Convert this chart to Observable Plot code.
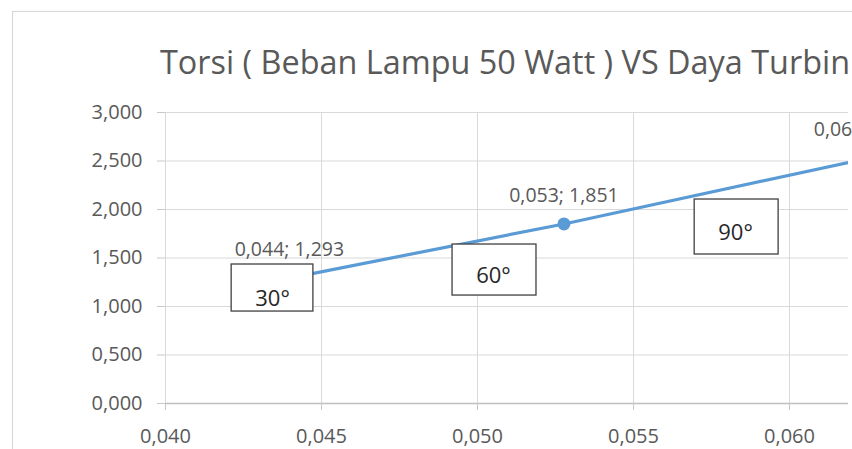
<!DOCTYPE html>
<html>
<head>
<meta charset="utf-8">
<script src="https://cdn.jsdelivr.net/npm/d3@7"></script>
<script src="https://cdn.jsdelivr.net/npm/@observablehq/plot@0.6"></script>
<style>
  html, body { margin: 0; padding: 0; background: white; overflow: hidden; }
  #chart svg { display: block; overflow: hidden; }
</style>
</head>
<body>
<div id="chart"></div>
<script>
// ---- data ----
const title = "Torsi ( Beban Lampu 50 Watt ) VS Daya Turbin";
const dayaTurbin = [0.04397, 0.05277, 0.06253];   // x values
const torsi = [1.293, 1.851, 2.530];              // y values
const xTicks = [0.040, 0.045, 0.050, 0.055, 0.060];
const yTicks = [0, 0.5, 1.0, 1.5, 2.0, 2.5, 3.0];
const angleLabels = ["30°", "60°", "90°"];

// annotation boxes (data coordinates)
const boxX1 = [0.04212, 0.04920, 0.05696];
const boxX2 = [0.04474, 0.05189, 0.05965];
const boxY1 = [0.948, 1.113, 1.536];
const boxY2 = [1.433, 1.639, 2.103];
const boxTextX = [0.04343, 0.05051, 0.05827];
const boxTextY = [1.077, 1.314, 1.758];

const points = dayaTurbin.map((x, i) => ({x, y: torsi[i]}));
const boxes = angleLabels.map((label, i) => ({
  label, x1: boxX1[i], x2: boxX2[i], y1: boxY1[i], y2: boxY2[i], xc: boxTextX[i], yc: boxTextY[i]
}));

const fmt = v => d3.format(".3f")(v).replace(".", ",");
const textGray = "#595959";

const chart = Plot.plot({
  width: 852,
  height: 449,
  marginLeft: 165,
  marginRight: 4,
  marginTop: 112,
  marginBottom: 46,
  style: {fontFamily: "'Open Sans', sans-serif", background: "white"},
  x: {domain: [0.040, 0.06189]},
  y: {domain: [0, 3]},
  marks: [
    Plot.gridX(xTicks, {stroke: "#d9d9d9", strokeOpacity: 1, strokeWidth: 1}),
    Plot.gridY(yTicks, {stroke: "#d9d9d9", strokeOpacity: 1, strokeWidth: 1}),
    Plot.ruleY([0], {stroke: "#bfbfbf", strokeWidth: 1.5}),
    Plot.axisX(xTicks, {tickSize: 7, tickPadding: 18, tickFormat: fmt, fontSize: 20,
      fill: textGray, stroke: "#c8c8c8", label: null}),
    Plot.axisY(yTicks, {tickSize: 8, tickPadding: 15, tickFormat: fmt, fontSize: 20,
      fill: textGray, stroke: "#c8c8c8", label: null}),
    Plot.line(points, {x: "x", y: "y", stroke: "#5b9bd5", strokeWidth: 3.2, clip: true}),
    Plot.dot(points, {x: "x", y: "y", r: 6.5, fill: "#5b9bd5", clip: true}),
    Plot.text(points, {x: "x", y: "y", text: d => `${fmt(d.x)}; ${fmt(d.y)}`, dy: -28,
      fontSize: 19.5, fill: textGray}),
    Plot.rect(boxes, {x1: "x1", x2: "x2", y1: "y1", y2: "y2", fill: "white",
      stroke: "#404040", strokeWidth: 1.3}),
    Plot.text(boxes, {x: "xc", y: "yc", text: "label", fontSize: 22, fill: "#262626"})
  ]
});

const svg = d3.select(chart);
svg.insert("rect", ":first-child")
  .attr("x", 12.5).attr("y", 11.5).attr("width", 1000).attr("height", 600)
  .attr("fill", "white").attr("stroke", "#d9d9d9").attr("stroke-width", 1.2);
svg.append("text")
  .attr("x", 160).attr("y", 74)
  .attr("text-anchor", "start")
  .attr("font-size", 32)
  .attr("fill", textGray)
  .attr("textLength", 690)
  .attr("lengthAdjust", "spacingAndGlyphs")
  .text(title);

document.getElementById("chart").appendChild(chart);
</script>
</body>
</html>
